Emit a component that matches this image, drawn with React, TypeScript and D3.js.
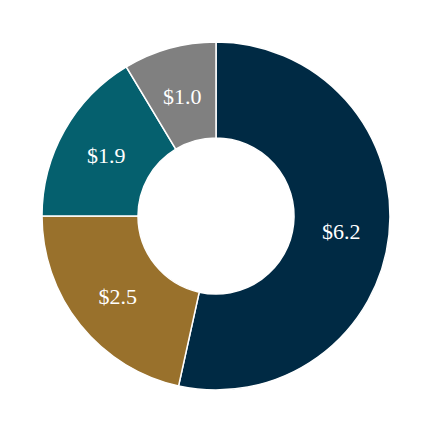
import React from "react";
import * as d3 from "d3";

const labels = ["$6.2", "$2.5", "$1.9", "$1.0"];
const values = [6.2, 2.5, 1.9, 1.0];
const colors = ["#002a44", "#99712c", "#05606e", "#808080"];

export default function App() {
  const W = 430, H = 430;
  const cx = 216, cy = 216;
  const outer = 174, inner = 78;
  const pie = d3.pie<number>().sort(null).value((d) => d);
  const arcs = pie(values);
  const arc = d3.arc<d3.PieArcDatum<number>>().innerRadius(inner).outerRadius(outer);
  return (
    <svg width={W} height={H} style={{ position: "absolute", left: 0, top: 0 }}>
      <rect width={W} height={H} fill="#fff" />
      <g transform={`translate(${cx},${cy})`}>
        {arcs.map((a, i) => (
          <path key={i} d={arc(a) || ""} fill={colors[i]} stroke="#fff" strokeWidth={1.5} />
        ))}
        {arcs.map((a, i) => {
          const [x, y] = arc.centroid(a);
          return (
            <text key={"t" + i} x={x} y={y} dy="0.42em" textAnchor="middle" fill="#fff"
              fontFamily="'Liberation Serif', 'Times New Roman', serif" fontSize={22}>
              {labels[i]}
            </text>
          );
        })}
      </g>
    </svg>
  );
}
